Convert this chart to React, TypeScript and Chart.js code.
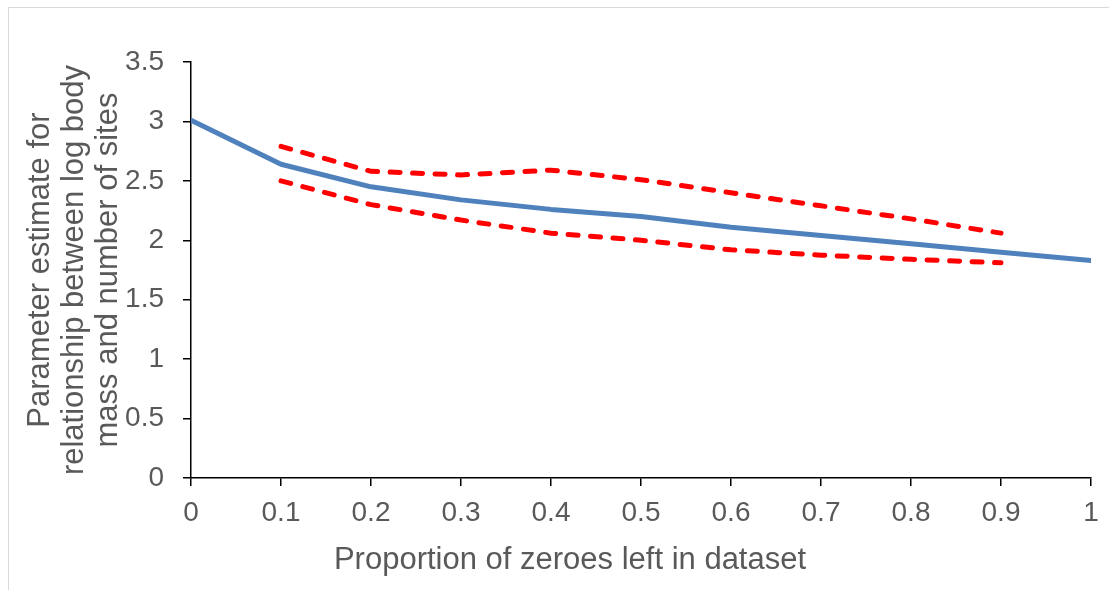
import React, { useEffect, useRef } from "react";
import { Chart, registerables } from "chart.js";

Chart.register(...registerables);

const proportions = [0, 0.1, 0.2, 0.3, 0.4, 0.5, 0.6, 0.7, 0.8, 0.9, 1];
const xTickLabels = ["0", "0.1", "0.2", "0.3", "0.4", "0.5", "0.6", "0.7", "0.8", "0.9", "1"];
const estimate = [3.01, 2.64, 2.45, 2.34, 2.26, 2.2, 2.11, 2.04, 1.97, 1.9, 1.83];
const upperBound = [null, 2.79, 2.58, 2.55, 2.59, 2.51, 2.4, 2.29, 2.18, 2.06, null];
const lowerBound = [null, 2.5, 2.3, 2.17, 2.06, 2.0, 1.92, 1.875, 1.84, 1.81, null];
const yTickLabels = ["0", "0.5", "1", "1.5", "2", "2.5", "3", "3.5"];

const xTitle = "Proportion of zeroes left in dataset";
const yTitle = ["Parameter estimate for", "relationship between log body", "mass and number of sites"];

const FONT = "Arial, 'Liberation Sans', sans-serif";

const toPoints = (vals: (number | null)[]) =>
  proportions
    .map((x, i) => ({ x, y: vals[i] }))
    .filter((p) => p.y !== null) as { x: number; y: number }[];

const xTitlePlugin = {
  id: "xTitlePlugin",
  afterDraw(chart: any) {
    const ctx = chart.ctx;
    ctx.save();
    ctx.font = `31px ${FONT}`;
    ctx.fillStyle = "#595959";
    ctx.textAlign = "center";
    ctx.textBaseline = "alphabetic";
    ctx.fillText(xTitle, 561, 561);
    ctx.restore();
  },
};

export default function App() {
  const ref = useRef<HTMLCanvasElement | null>(null);

  useEffect(() => {
    if (!ref.current) return;
    const chart = new Chart(ref.current, {
      type: "line",
      data: {
        datasets: [
          {
            label: "Estimate",
            data: toPoints(estimate),
            borderColor: "#4F81BD",
            borderWidth: 5,
            pointRadius: 0,
            tension: 0,
            borderCapStyle: "round",
            borderJoinStyle: "round",
          },
          {
            label: "Upper",
            data: toPoints(upperBound),
            borderColor: "#FF0000",
            borderWidth: 5,
            borderDash: [10, 12.5],
            borderCapStyle: "round",
            pointRadius: 0,
            tension: 0,
          },
          {
            label: "Lower",
            data: toPoints(lowerBound),
            borderColor: "#FF0000",
            borderWidth: 5,
            borderDash: [10, 12.5],
            borderCapStyle: "round",
            pointRadius: 0,
            tension: 0,
          },
        ],
      },
      plugins: [xTitlePlugin],
      options: {
        animation: false,
        responsive: false,
        maintainAspectRatio: false,
        layout: { padding: { top: 54, right: 18, left: 0, bottom: 0 } },
        plugins: {
          legend: { display: false },
          tooltip: { enabled: false },
        },
        scales: {
          x: {
            type: "linear",
            min: 0,
            max: 1,
            afterBuildTicks: (scale: any) => {
              scale.ticks = proportions.map((v) => ({ value: v }));
            },
            afterFit: (scale: any) => {
              scale.height = 112;
            },
            ticks: {
              autoSkip: false,
              maxRotation: 0,
              color: "#595959",
              padding: 10,
              font: { family: FONT, size: 28 },
              callback: (_v: any, i: number) => xTickLabels[i],
            },
            grid: {
              display: true,
              drawOnChartArea: false,
              drawTicks: true,
              tickLength: 8,
              color: "#000000",
              lineWidth: 1.5,
            },
            border: { display: true, color: "#000000", width: 1.5 },
            title: { display: false },
          },
          y: {
            type: "linear",
            min: 0,
            max: 3.5,
            afterBuildTicks: (scale: any) => {
              scale.ticks = yTickLabels.map((_, i) => ({ value: i * 0.5 }));
            },
            afterFit: (scale: any) => {
              scale.width = 182;
            },
            ticks: {
              autoSkip: false,
              color: "#595959",
              padding: 19,
              font: { family: FONT, size: 28 },
              callback: (_v: any, i: number) => yTickLabels[i],
            },
            grid: {
              display: true,
              drawOnChartArea: false,
              drawTicks: true,
              tickLength: 8,
              color: "#000000",
              lineWidth: 1.5,
            },
            border: { display: true, color: "#000000", width: 1.5 },
            title: {
              display: true,
              text: yTitle,
              color: "#595959",
              font: { family: FONT, size: 31, lineHeight: 1.1 },
              padding: { top: 14, bottom: 0 },
            },
          },
        },
      },
    });
    return () => chart.destroy();
  }, []);

  return (
    <div
      style={{
        position: "fixed",
        left: 8,
        top: 7,
        width: 1101,
        height: 583,
        borderTop: "1px solid #D9D9D9",
        borderLeft: "1px solid #D9D9D9",
        boxSizing: "border-box",
        background: "#FFFFFF",
      }}
    >
      <canvas ref={ref} width={1100} height={582} style={{ display: "block" }} />
    </div>
  );
}
